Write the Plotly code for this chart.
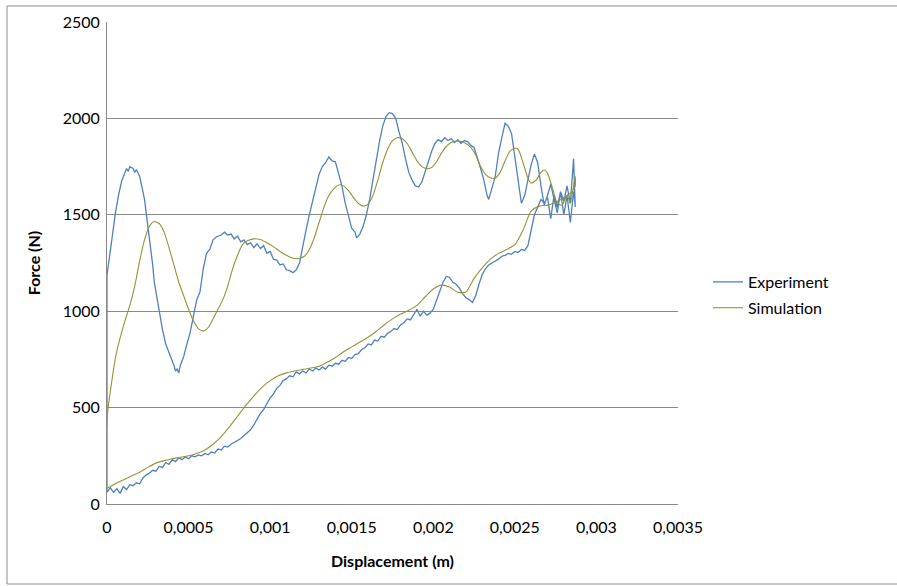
import plotly.graph_objects as go

# ---------------- data ----------------
# Experiment, loading path (lower branch), x in m, force in N
exp_low_x = [0.0, 0.00002, 0.00004, 0.00006, 0.00008, 0.00010, 0.00012, 0.00014, 0.00016, 0.00018,
             0.00020, 0.00022, 0.00024, 0.00026, 0.00028, 0.00030, 0.00032, 0.00034, 0.00036, 0.00038,
             0.00040, 0.00042, 0.00044, 0.00046, 0.00048, 0.00050, 0.00052, 0.00054, 0.00056, 0.00058,
             0.00060, 0.00062, 0.00064, 0.00066, 0.00068, 0.00070, 0.00072, 0.00074, 0.00076, 0.00078,
             0.00080, 0.00082, 0.00084, 0.00086, 0.00088, 0.00090, 0.00092, 0.00094, 0.00096, 0.00098,
             0.00100, 0.00102, 0.00104, 0.00106, 0.00108, 0.00110, 0.00112, 0.00114, 0.00116, 0.00118,
             0.00120, 0.00122, 0.00124, 0.00126, 0.00128, 0.00130, 0.00132, 0.00134, 0.00136, 0.00138,
             0.00140, 0.00142, 0.00144, 0.00146, 0.00148, 0.00150, 0.00152, 0.00154, 0.00156, 0.00158,
             0.00160, 0.00162, 0.00164, 0.00166, 0.00168, 0.00170, 0.00172, 0.00174, 0.00176, 0.00178,
             0.00180, 0.00182, 0.00184, 0.00186, 0.00188, 0.00190, 0.00192, 0.00194, 0.00196, 0.00198,
             0.00200, 0.00202, 0.00204, 0.00206, 0.00208, 0.00210, 0.00212, 0.00214, 0.00216, 0.00218,
             0.00220, 0.00222, 0.00224, 0.00226, 0.00228, 0.00230, 0.00232, 0.00234, 0.00236, 0.00238,
             0.00240, 0.00242, 0.00244, 0.00246, 0.00248, 0.00250, 0.00252, 0.00254, 0.00256, 0.00258,
             0.00260, 0.00262, 0.00264, 0.00266, 0.00268, 0.00270, 0.00272, 0.00274, 0.00276, 0.00278,
             0.00280, 0.00282, 0.00284, 0.00286, 0.00287]
exp_low_y = [60, 85, 60, 80, 55, 90, 75, 100, 95, 110,
             105, 135, 150, 160, 175, 170, 195, 190, 215, 205,
             230, 220, 240, 230, 245, 235, 250, 245, 255, 250,
             262, 255, 270, 265, 285, 280, 300, 295, 310, 320,
             330, 340, 355, 370, 385, 410, 440, 470, 490, 520,
             550, 570, 600, 615, 640, 650, 665, 660, 685, 675,
             690, 680, 700, 690, 705, 695, 710, 700, 720, 715,
             730, 725, 745, 740, 760, 755, 775, 780, 800, 810,
             830, 825, 850, 845, 870, 865, 885, 895, 910, 905,
             930, 940, 960, 955, 980, 1010, 975, 1000, 980, 990,
             1010, 1060, 1100, 1150, 1180, 1175, 1150, 1140, 1120, 1090,
             1070, 1060, 1045, 1080, 1140, 1190, 1220, 1240, 1250, 1260,
             1270, 1285, 1290, 1300, 1295, 1310, 1305, 1320, 1315, 1340,
             1420, 1500, 1540, 1580, 1560, 1590, 1480, 1600, 1540, 1620,
             1500, 1600, 1460, 1620, 1550]

# Experiment, unloading path (upper branch), stored from x = 0 upward
exp_up_x = [0.0, 0.00002, 0.00005, 0.00007, 0.00009, 0.00011, 0.00012, 0.00013, 0.00014, 0.00016,
            0.00017, 0.00018, 0.00020, 0.00022, 0.00023, 0.00025, 0.00026, 0.00028, 0.00029, 0.00031,
            0.00034, 0.00036, 0.00039, 0.00041, 0.00042, 0.00043, 0.00044, 0.00045, 0.00047, 0.00049,
            0.00051, 0.00053, 0.00055, 0.00057, 0.00059, 0.00061, 0.00063, 0.00065, 0.00067, 0.00070,
            0.00072, 0.00074, 0.00076, 0.00078, 0.00080, 0.00082, 0.00084, 0.00086, 0.00088, 0.00090,
            0.00092, 0.00094, 0.00096, 0.00098, 0.00100, 0.00102, 0.00104, 0.00106, 0.00108, 0.00110,
            0.00112, 0.00114, 0.00116, 0.00118, 0.00120, 0.00122, 0.00124, 0.00126, 0.00128, 0.00130,
            0.00132, 0.00134, 0.00136, 0.00138, 0.00140, 0.00142, 0.00144, 0.00146, 0.00148, 0.00150,
            0.00152, 0.00153, 0.00155, 0.00157, 0.00159, 0.00161, 0.00163, 0.00165, 0.00167, 0.00169,
            0.00171, 0.00173, 0.00175, 0.00177, 0.00179, 0.00181, 0.00183, 0.00185, 0.00187, 0.00189,
            0.00191, 0.00193, 0.00195, 0.00197, 0.00199, 0.00201, 0.00203, 0.00205, 0.00207, 0.00209,
            0.00211, 0.00213, 0.00215, 0.00217, 0.00219, 0.00221, 0.00223, 0.00225, 0.00227, 0.00229,
            0.00231, 0.00233, 0.00234, 0.00236, 0.00238, 0.00240, 0.00242, 0.00244, 0.00246, 0.00248,
            0.00250, 0.00252, 0.00254, 0.00256, 0.00258, 0.00260, 0.00262, 0.00264, 0.00266, 0.00268,
            0.00270, 0.00272, 0.00274, 0.00276, 0.00278, 0.00280, 0.00282, 0.00284, 0.00286, 0.00287]
exp_up_y = [1190, 1310, 1500, 1600, 1675, 1720, 1740, 1725, 1750, 1740,
            1720, 1735, 1700, 1620, 1580, 1460, 1370, 1240, 1150, 1060,
            905, 830, 760, 720, 690, 700, 680, 720, 765, 830,
            890, 980, 1060, 1100, 1220, 1300, 1320, 1370, 1385, 1395,
            1410, 1395, 1400, 1375, 1390, 1360, 1370, 1345, 1355, 1330,
            1350, 1325, 1340, 1300, 1310, 1270, 1265, 1240, 1245, 1215,
            1210, 1200, 1215, 1250, 1330, 1420, 1500, 1580, 1640, 1710,
            1750, 1770, 1800, 1780, 1775, 1720, 1650, 1560, 1500, 1430,
            1410, 1380, 1400, 1440, 1500, 1580, 1680, 1790, 1880, 1960,
            2010, 2030, 2025, 2000, 1930, 1870, 1790, 1720, 1680, 1650,
            1645, 1670, 1720, 1780, 1830, 1870, 1890, 1880, 1900, 1885,
            1895, 1875, 1890, 1870, 1885, 1880, 1860, 1850, 1800, 1740,
            1680, 1600, 1580, 1640, 1700, 1820, 1900, 1975, 1960, 1920,
            1800, 1680, 1560, 1600, 1680, 1760, 1815, 1770, 1650, 1550,
            1600, 1660, 1580, 1510, 1620, 1570, 1650, 1560, 1790, 1540]

# Simulation, loading path (lower branch)
sim_low_x = [0.0, 0.00005, 0.0001, 0.00015, 0.0002, 0.00025, 0.0003, 0.00035, 0.0004, 0.00045,
             0.0005, 0.00055, 0.0006, 0.00065, 0.0007, 0.00075, 0.0008, 0.00085, 0.0009, 0.00095,
             0.001, 0.00105, 0.0011, 0.00115, 0.0012, 0.00125, 0.0013, 0.00135, 0.0014, 0.00145,
             0.0015, 0.00155, 0.0016, 0.00165, 0.0017, 0.00175, 0.0018, 0.00185, 0.0019, 0.00195,
             0.002, 0.00205, 0.0021, 0.00215, 0.0022, 0.00225, 0.0023, 0.00235, 0.0024, 0.00245,
             0.0025, 0.00255, 0.0026, 0.00265, 0.0027, 0.00275, 0.0028, 0.00285, 0.00287]
sim_low_y = [85, 105, 125, 145, 165, 190, 212, 225, 235, 242,
             250, 262, 280, 310, 350, 400, 455, 510, 560, 605,
             640, 665, 680, 690, 698, 705, 715, 735, 760, 790,
             815, 840, 865, 895, 930, 960, 985, 1005, 1030, 1075,
             1115, 1135, 1125, 1098, 1100, 1170, 1225, 1270, 1300, 1320,
             1345, 1420, 1520, 1545, 1550, 1565, 1590, 1620, 1650]

# Simulation, unloading path (upper branch), stored from x = 0 upward
sim_up_x = [0.0, 0.00001, 0.00003, 0.00005, 0.00008, 0.00011, 0.00014, 0.00017, 0.0002, 0.00023,
            0.00026, 0.00029, 0.00032, 0.00035, 0.00038, 0.00041, 0.00044, 0.00047, 0.0005, 0.00053,
            0.00056, 0.00059, 0.00062, 0.00065, 0.00068, 0.00071, 0.00074, 0.00077, 0.0008, 0.00083,
            0.00086, 0.0009, 0.00094, 0.00098, 0.00102, 0.00106, 0.0011, 0.00114, 0.00118, 0.00121,
            0.00124, 0.00127, 0.0013, 0.00133, 0.00136, 0.00139, 0.00142, 0.00145, 0.00148, 0.00151,
            0.00154, 0.00157, 0.0016, 0.00163, 0.00166, 0.00169, 0.00172, 0.00175, 0.00178, 0.00181,
            0.00184, 0.00187, 0.0019, 0.00193, 0.00196, 0.00199, 0.00202, 0.00205, 0.00208, 0.00211,
            0.00214, 0.00217, 0.0022, 0.00223, 0.00226, 0.00229, 0.00232, 0.00235, 0.00238, 0.00241,
            0.00244, 0.00247, 0.0025, 0.00252, 0.00255, 0.00258, 0.0026, 0.00263, 0.00266, 0.00268,
            0.0027, 0.00273, 0.00276, 0.00279, 0.00282, 0.00284, 0.00286, 0.00287]
sim_up_y = [440, 520, 640, 750, 860, 950, 1030, 1130, 1260, 1370,
            1440, 1465, 1455, 1410, 1330, 1240, 1150, 1080, 1010, 950,
            910, 898, 915, 960, 1010, 1060, 1130, 1220, 1290, 1345,
            1365, 1375, 1372, 1355, 1335, 1310, 1290, 1275, 1275, 1285,
            1320, 1380, 1460, 1540, 1600, 1635, 1655, 1650, 1625, 1590,
            1560, 1545, 1555, 1600, 1680, 1770, 1840, 1885, 1900, 1895,
            1870, 1825, 1780, 1750, 1740, 1745, 1775, 1820, 1855, 1875,
            1882, 1880, 1870, 1850, 1810, 1750, 1710, 1692, 1690, 1720,
            1780, 1830, 1845, 1840, 1770, 1690, 1665, 1680, 1720, 1732,
            1715, 1640, 1560, 1550, 1600, 1560, 1650, 1700]

x_tick_vals = [0, 0.0005, 0.001, 0.0015, 0.002, 0.0025, 0.003, 0.0035]
x_tick_text = ["0", "0,0005", "0,001", "0,0015", "0,002", "0,0025", "0,003", "0,0035"]
y_tick_vals = [0, 500, 1000, 1500, 2000, 2500]

# full closed paths: loading branch forward, unloading branch back to x = 0
exp_x = exp_low_x + exp_up_x[::-1] + [exp_low_x[0]]
exp_y = exp_low_y + exp_up_y[::-1] + [exp_low_y[0]]
sim_x = sim_low_x + sim_up_x[::-1] + [sim_low_x[0]]
sim_y = sim_low_y + sim_up_y[::-1] + [sim_low_y[0]]

FONT = "Lato"
GRID = "#8a8a8a"

fig = go.Figure()
fig.add_trace(go.Scatter(x=exp_x, y=exp_y, mode="lines", name="Experiment",
                         legendgroup="a",
                         line=dict(color="#4F81BD", width=1.3)))
fig.add_trace(go.Scatter(x=sim_x, y=sim_y, mode="lines", name="Simulation",
                         legendgroup="b",
                         line=dict(color="#949437", width=1.1, shape="spline", smoothing=0.6)))

# chart-area frame (top, left, bottom edges)
L, R, T, B = 107, 219, 22, 82
W, H = 897, 586
pw, ph = W - L - R, H - T - B
def px2x(px):
    return (px - L) / pw
def py2y(py):
    return (H - B - py) / ph
frame = dict(color="#8c8c8c", width=1)
fig.add_shape(type="line", xref="paper", yref="paper", x0=px2x(7), x1=px2x(897), y0=py2y(6), y1=py2y(6), line=frame)
fig.add_shape(type="line", xref="paper", yref="paper", x0=px2x(7), x1=px2x(7), y0=py2y(6), y1=py2y(584), line=frame)
fig.add_shape(type="line", xref="paper", yref="paper", x0=px2x(7), x1=px2x(897), y0=py2y(584), y1=py2y(584), line=frame)

fig.update_layout(
    width=W, height=H,
    margin=dict(l=L, r=R, t=T, b=B),
    paper_bgcolor="white", plot_bgcolor="white",
    font=dict(family=FONT, size=16, color="#000000"),
    legend=dict(x=px2x(708), y=py2y(295), xanchor="left", yanchor="middle",
                font=dict(family=FONT, size=16), itemwidth=30,
                tracegroupgap=2, bgcolor="rgba(0,0,0,0)"),
    xaxis=dict(range=[0, 0.0035], tickvals=x_tick_vals, ticktext=x_tick_text,
               showgrid=False, zeroline=False, showline=True, linecolor=GRID, linewidth=1,
               ticks="", ticklabelstandoff=9,
               tickfont=dict(family=FONT, size=16),
               title=dict(text="<b>Displacement (m)</b>", font=dict(family=FONT, size=16), standoff=20)),
    yaxis=dict(range=[0, 2500], tickvals=y_tick_vals,
               showgrid=True, gridcolor=GRID, gridwidth=1,
               zeroline=False, showline=True, linecolor=GRID, linewidth=1,
               ticks="", ticklabelstandoff=3, tickfont=dict(family=FONT, size=16),
               title=dict(text="<b>Force (N)</b>", font=dict(family=FONT, size=16), standoff=18)),
)

fig.write_html("out.html", config={"displayModeBar": False},
               post_script="document.body.style.margin='0';document.body.style.overflow='hidden';")
